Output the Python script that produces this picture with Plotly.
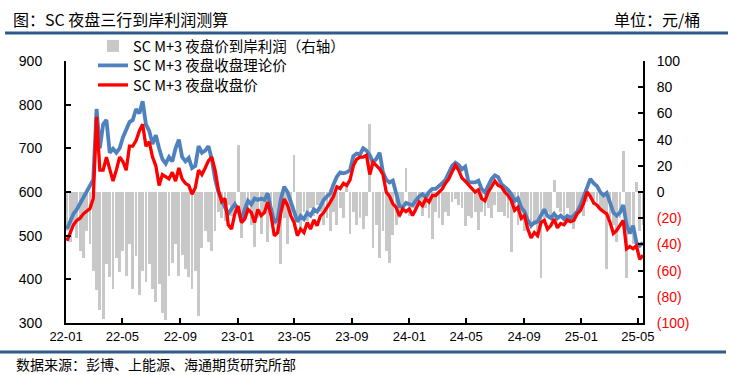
import plotly.graph_objects as go
import pandas as pd

# weekly observation dates (Mondays), 2022-01-03 .. 2025-05-12
week_start = "2022-01-03"
n_weeks = 176
weeks = pd.date_range(week_start, periods=n_weeks, freq="7D")

# SC M+3 night-session theoretical close (left axis, yuan/bbl)
theory = [515, 535, 550, 560, 574, 586, 598, 612, 628, 790, 700, 755, 765, 690, 699, 690, 700, 725, 745, 760,
          765, 790, 780, 808, 755, 740, 710, 730, 700, 675, 665, 680, 670, 700, 720, 680, 670, 678, 655, 660,
          705, 690, 695, 705,
          675, 630, 600, 580, 565, 550, 560, 572, 560, 535, 560, 580, 572, 585, 582, 585, 582, 597, 561, 530,
          538, 584, 612, 600, 578, 555, 532, 545, 538, 552, 546, 560, 555, 567, 582, 590, 597, 618, 635, 645,
          643, 645, 650, 682,
          688, 686, 700, 695, 684, 668, 676, 690, 645, 628, 622, 626, 600, 568, 565, 575, 572, 570, 580, 590,
          595, 588, 600, 607, 607, 613, 620, 628, 644, 660, 667, 662, 652, 658, 622, 622, 622, 626, 607, 599,
          615, 630, 638, 634,
          618, 612, 605, 595, 580, 586, 565, 555, 535, 523, 530, 532, 548, 560, 545, 540, 550, 540, 546, 538,
          545, 540, 546, 555, 570, 590, 607, 630, 620, 614, 600, 592, 598, 578, 553, 546, 553, 570, 525, 505,
          523, 484, 477, 484]

# SC M+3 night-session close (left axis, yuan/bbl)
close = [488, 505, 525, 535, 540, 550, 556, 562, 585, 772, 650, 650, 680, 655, 625, 650, 680, 670, 650, 705,
         705, 718, 740, 755, 705, 715, 680, 660, 615, 640, 635, 630, 645, 625, 655, 630, 620, 615, 595, 610,
         650, 640, 655, 672,
         680, 650, 605, 578, 585, 525, 515, 550, 568, 530, 538, 560, 553, 530, 560, 546, 553, 577, 546, 500,
         507, 553, 584, 570, 546, 530, 500, 515, 507, 530, 515, 536, 523, 545, 553, 567, 577, 590, 612, 608,
         620, 615, 628, 660,
         675, 680, 680, 684, 640, 668, 660, 653, 640, 600, 590, 573, 565, 545, 561, 555, 561, 546, 561, 577,
         569, 584, 577, 592, 592, 599, 607, 620, 630, 646, 661, 650, 632, 625, 617, 608, 600, 605, 585, 580,
         600, 612, 625, 615,
         612, 600, 592, 580, 558, 565, 540, 546, 515, 495, 507, 500, 530, 535, 515, 523, 538, 518, 528, 525,
         536, 532, 535, 550, 558, 575, 600, 590, 575, 570, 561, 555, 550, 530, 505, 512, 523, 535, 470, 475,
         470, 477, 446, 455]

# SC M+3 night-session landed profit (right axis)
profit = [-30, -38, -25, -35, -45, -50, -30, -40, -60, -75, -90, -97, -55, -65, -74, -50, -61, -45, -64, -40,
          -74, -49, -79, -60, -69, -55, -74, -84, -70, -92, -98, -64, -54, -40, -64, -48, -59, -65, -74, -60,
          -95, -43, -30, -38,
          -45, -30, -15, -20, -22, -10, -18, -15, 36, -35, -20, -15, -25, -42, -20, -32, -15, -38, -20, -25,
          -30, -55, -20, -40, -15, 28, -20, -28, -15, -22, -12, -18, -10, -15, -25, -20, -30, -15, -25, -12,
          -20, 5, -32, -15,
          -25, -20, -28, -18, 52, -43, -25, -50, -30, -45, -54, -33, -25, -20, -15, 18, -18, -12, -15, -10,
          -18, -12, -20, -36, -15, -20, -25, -15, -18, -8, -5, -10, -12, -26, -18, -20, -15, -29, -15, -18,
          -12, -20, -10, -15,
          -15, -18, -20, -46, -15, -25, -22, -30, -20, -28, -25, -35, -66, -20, -15, -18, 9, -12, -15, -20,
          -12, -18, -28, -15, -12, -18, -8, -5, -10, -8, -12, -15, -59, -20, -25, -38, -20, 31, -66, -30,
          -40, 8, -30, -25]

left_tick_vals = [300, 400, 500, 600, 700, 800, 900]
right_tick_vals = [-100, -80, -60, -40, -20, 0, 20, 40, 60, 80, 100]
right_tick_text = ['<span style="color:#FF0000">(100)</span>', '<span style="color:#FF0000">(80)</span>',
                   '<span style="color:#FF0000">(60)</span>', '<span style="color:#FF0000">(40)</span>',
                   '<span style="color:#FF0000">(20)</span>', '0', '20', '40', '60', '80', '100']

series_names = ["SC M+3 夜盘价到岸利润（右轴）", "SC M+3 夜盘收盘理论价", "SC M+3 夜盘收盘价"]

W, H = 731, 375
L, R, T, B = 66, 88, 61, 52
PW, PH = W - L - R, H - T - B


def px_x(p):
    return (p - L) / PW


def px_y(p):
    return (H - B - p) / PH


CJK = "Noto Sans CJK SC"
NUM = "Liberation Sans, Arial, sans-serif"

fig = go.Figure()
fig.add_trace(go.Bar(x=weeks, y=profit, name=series_names[0], yaxis="y", legend="legend",
                     marker=dict(color="#C8C8C8", line=dict(width=0)),
                     width=6 * 86400000))
fig.add_trace(go.Scatter(x=weeks, y=theory, name=series_names[1], yaxis="y2", mode="lines",
                         legend="legend2", line=dict(color="#4F81BD", width=3.8)))
fig.add_trace(go.Scatter(x=weeks, y=close, name=series_names[2], yaxis="y2", mode="lines",
                         legend="legend3", line=dict(color="#FF0000", width=3.3)))

axis_common = dict(showgrid=False, zeroline=False, showline=True, linecolor="black", linewidth=2,
                   ticks="inside", ticklen=5, tickwidth=2, tickcolor="black")

legend_common = dict(xanchor="left", yanchor="middle", bgcolor="rgba(0,0,0,0)",
                     font=dict(family=CJK, size=14.5, color="black"), itemwidth=30)

fig.update_layout(
    width=W, height=H,
    margin=dict(l=L, r=R, t=T, b=B, pad=0),
    paper_bgcolor="white", plot_bgcolor="white",
    showlegend=True,
    bargap=0,
    xaxis=dict(type="date", range=["2022-01-01", "2025-05-12"], tick0="2022-01-01", dtick="M4",
               tickformat="%y-%m", tickfont=dict(family=NUM, size=13, color="black"), **axis_common),
    yaxis=dict(side="right", range=[-100, 100], tickvals=right_tick_vals, ticktext=right_tick_text,
               tickfont=dict(family=NUM, size=14, color="black"), ticklabelstandoff=9, **axis_common),
    yaxis2=dict(side="left", overlaying="y", range=[300, 900], tickvals=left_tick_vals,
                tickfont=dict(family=NUM, size=14, color="black"), ticklabelstandoff=19, **axis_common),
    legend=dict(x=px_x(93), y=px_y(46), **legend_common),
    legend2=dict(x=px_x(93), y=px_y(65.5), **legend_common),
    legend3=dict(x=px_x(93), y=px_y(85), **legend_common),
    annotations=[
        dict(text="图：SC 夜盘三行到岸利润测算", xref="paper", yref="paper", x=px_x(11), y=px_y(19),
             xanchor="left", yanchor="middle", showarrow=False,
             font=dict(family=CJK, size=16, color="black")),
        dict(text="单位：元/桶", xref="paper", yref="paper", x=px_x(702), y=px_y(19),
             xanchor="right", yanchor="middle", showarrow=False,
             font=dict(family=CJK, size=16, color="black")),
        dict(text="数据来源：彭博、上能源、海通期货研究所部", xref="paper", yref="paper", x=px_x(14), y=px_y(364),
             xanchor="left", yanchor="middle", showarrow=False,
             font=dict(family=CJK, size=14, color="black")),
    ],
    shapes=[
        dict(type="line", xref="paper", yref="paper", x0=px_x(5), x1=px_x(728), y0=px_y(33), y1=px_y(33),
             line=dict(color="#2F5B8C", width=3)),
        dict(type="line", xref="paper", yref="paper", x0=px_x(0), x1=px_x(726), y0=px_y(352), y1=px_y(352),
             line=dict(color="#2F5B8C", width=3)),
    ],
)

fig.write_html("out.html", config={"displayModeBar": False},
               post_script="document.body.style.margin='0';document.body.style.overflow='hidden';")
